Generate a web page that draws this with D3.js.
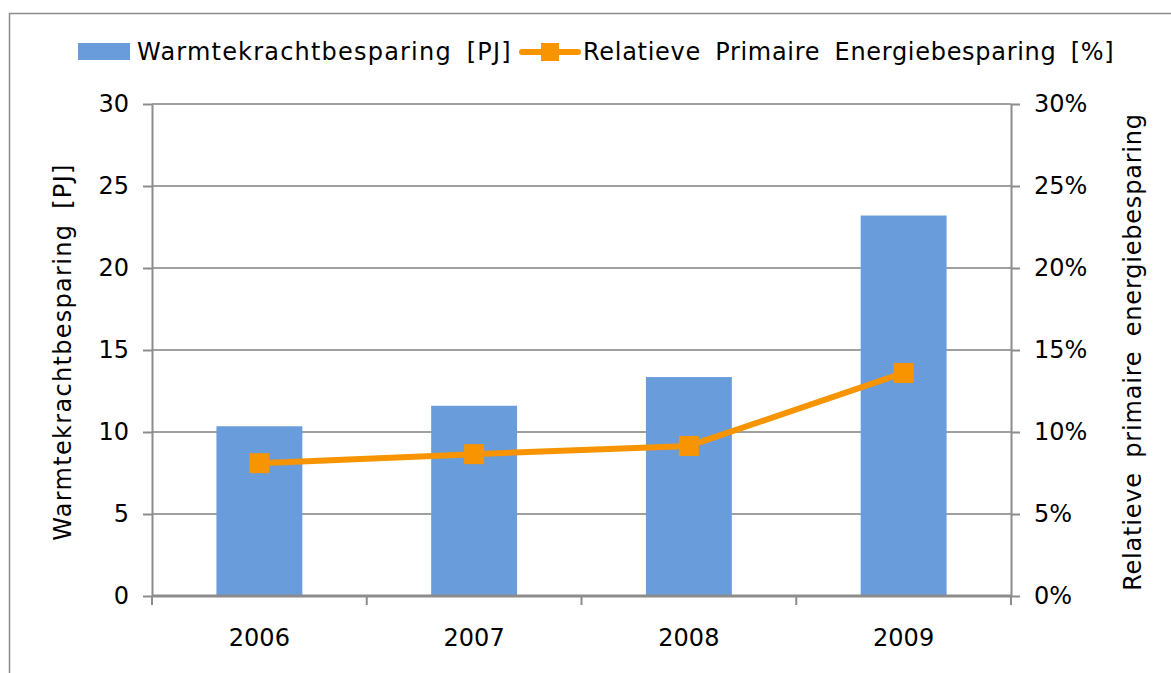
<!DOCTYPE html>
<html>
<head>
<meta charset="utf-8">
<script src="https://cdn.jsdelivr.net/npm/d3@7"></script>
<style>
  body { margin: 0; background: #fff; }
  text { font-family: "DejaVu Sans", Verdana, sans-serif; fill: #000; }
</style>
</head>
<body>
<script>
const years = ['2006', '2007', '2008', '2009'];
const besparingPJ = [10.35, 11.6, 13.35, 23.2];
const relatiefPct = [8.1, 8.65, 9.15, 13.6];
const leftTicks = [0, 5, 10, 15, 20, 25, 30];
const rightTicks = [0, 5, 10, 15, 20, 25, 30];

const W = 1171, H = 673;
const m = { left: 152, right: 160, top: 104, bottom: 77 };
const iw = W - m.left - m.right, ih = H - m.top - m.bottom;

const svg = d3.select('body').append('svg')
    .attr('width', W).attr('height', H);

// outer frame (runs past the right and bottom edges)
svg.append('rect')
    .attr('x', 9.5).attr('y', 13.5)
    .attr('width', 1200).attr('height', 700)
    .attr('fill', 'none').attr('stroke', '#8c8c8c').attr('stroke-width', 1.5);

const g = svg.append('g').attr('transform', `translate(${m.left},${m.top})`);

const x = d3.scaleBand().domain(years).range([0, iw]).paddingInner(0.6).paddingOuter(0.3);
const xb = d3.scaleBand().domain(years).range([0, iw]);
const yL = d3.scaleLinear().domain([0, 30]).range([ih, 0]);
const yR = d3.scaleLinear().domain([0, 30]).range([ih, 0]);

// grid
g.selectAll('.grid').data(leftTicks.filter(d => d > 0)).enter().append('line')
    .attr('x1', 0).attr('x2', iw)
    .attr('y1', d => yL(d)).attr('y2', d => yL(d))
    .attr('stroke', '#a0a0a0').attr('stroke-width', 2);

// bars
g.selectAll('.bar').data(years).enter().append('rect')
    .attr('x', d => x(d))
    .attr('width', x.bandwidth())
    .attr('y', (d, i) => yL(besparingPJ[i]))
    .attr('height', (d, i) => ih - yL(besparingPJ[i]))
    .attr('fill', '#699cdb');

// axes
function styleAxis(sel) {
  sel.select('.domain').attr('stroke', '#8c8c8c').attr('stroke-width', 2);
  sel.selectAll('.tick line').attr('stroke', '#8c8c8c').attr('stroke-width', 2);
  sel.selectAll('.tick text').style('font-size', '24px');
}

g.append('g')
    .call(d3.axisLeft(yL).tickValues(leftTicks).tickSize(9).tickPadding(14).tickSizeOuter(0))
    .call(styleAxis);

g.append('g').attr('transform', `translate(${iw},0)`)
    .call(d3.axisRight(yR).tickValues(rightTicks).tickSize(9).tickPadding(14)
      .tickSizeOuter(0).tickFormat(d => d + '%'))
    .call(styleAxis);

const xAxis = g.append('g').attr('transform', `translate(0,${ih})`);
xAxis.append('line').attr('x1', 0).attr('x2', iw)
    .attr('stroke', '#8c8c8c').attr('stroke-width', 3);
xAxis.selectAll('.xt').data(years.concat(['end'])).enter().append('line')
    .attr('x1', (d, i) => i * xb.bandwidth()).attr('x2', (d, i) => i * xb.bandwidth())
    .attr('y1', 0).attr('y2', 9)
    .attr('stroke', '#8c8c8c').attr('stroke-width', 2);
xAxis.selectAll('.xl').data(years).enter().append('text')
    .attr('x', d => xb(d) + xb.bandwidth() / 2)
    .attr('y', 50)
    .attr('text-anchor', 'middle')
    .style('font-size', '24px')
    .text(d => d);

// line
const line = d3.line()
    .x((d, i) => xb(years[i]) + xb.bandwidth() / 2)
    .y(d => yR(d));
g.append('path').datum(relatiefPct)
    .attr('d', line)
    .attr('fill', 'none').attr('stroke', '#f79400').attr('stroke-width', 6);
g.selectAll('.mk').data(relatiefPct).enter().append('rect')
    .attr('x', (d, i) => xb(years[i]) + xb.bandwidth() / 2 - 10)
    .attr('y', d => yR(d) - 10)
    .attr('width', 20).attr('height', 20)
    .attr('fill', '#f79400');

// axis titles
svg.append('text')
    .attr('transform', 'translate(71,352) rotate(-90)')
    .attr('text-anchor', 'middle')
    .style('font-size', '24px')
    .style('letter-spacing', '1.3px').style('word-spacing', '6px')
    .text('Warmtekrachtbesparing [PJ]');
svg.append('text')
    .attr('transform', 'translate(1141,352) rotate(-90)')
    .attr('text-anchor', 'middle')
    .style('font-size', '24px')
    .style('letter-spacing', '0.8px').style('word-spacing', '6px')
    .text('Relatieve primaire energiebesparing');

// legend
const lg = svg.append('g');
lg.append('rect').attr('x', 78).attr('y', 43).attr('width', 52).attr('height', 17).attr('fill', '#699cdb');
lg.append('text').attr('x', 137).attr('y', 60).style('font-size', '24px')
    .style('letter-spacing', '1.2px').style('word-spacing', '6px')
    .text('Warmtekrachtbesparing [PJ]');
lg.append('line').attr('x1', 522).attr('x2', 578).attr('y1', 52).attr('y2', 52)
    .attr('stroke', '#f79400').attr('stroke-width', 6).attr('stroke-linecap', 'round');
lg.append('rect').attr('x', 541).attr('y', 43).attr('width', 18).attr('height', 18).attr('fill', '#f79400');
lg.append('text').attr('x', 583).attr('y', 60).style('font-size', '24px')
    .style('letter-spacing', '0.7px').style('word-spacing', '6px')
    .text('Relatieve Primaire Energiebesparing [%]');
</script>
</body>
</html>
